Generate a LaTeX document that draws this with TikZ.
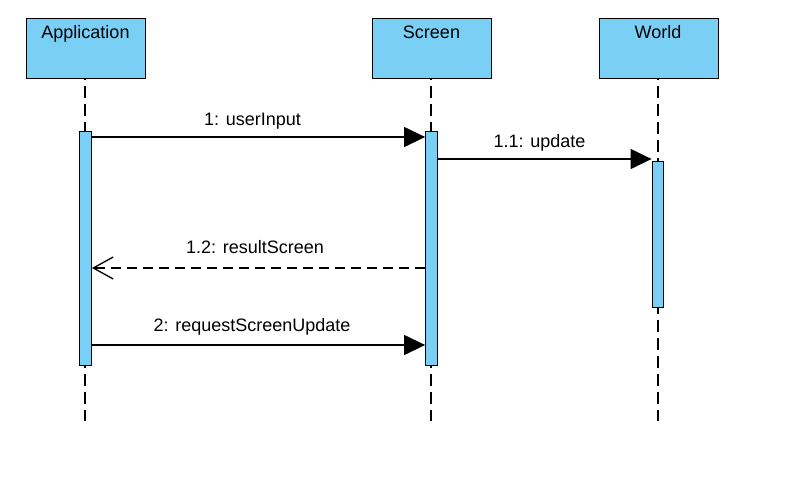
\documentclass[tikz,border=0pt]{standalone}
\usepackage{fontspec}
\setmainfont{Liberation Sans}
\usetikzlibrary{arrows.meta}
\definecolor{lifeblue}{HTML}{7ACFF5}
\tikzset{
  headbox/.style={draw=black, fill=lifeblue, line width=1.3pt, minimum width=119pt, minimum height=60pt, inner sep=0pt, anchor=north west},
  headtext/.style={font=\fontsize{18}{21}\selectfont, anchor=base},
  actbar/.style={draw=black, fill=lifeblue, line width=1.3pt, minimum width=11.5pt, inner sep=0pt, anchor=north},
  lifeline/.style={line width=1.5pt, dash pattern=on 12pt off 6pt, dash phase=11pt},
  msgline/.style={line width=1.3pt, -{Triangle[length=21pt,width=20pt]}},
  retline/.style={line width=1.3pt, dash pattern=on 10pt off 6pt, -{Straight Barb[length=20pt,width=22pt,line width=1.3pt]}},
  msglabel/.style={font=\fontsize{18}{21}\selectfont, anchor=base}
}
\begin{document}
\begin{tikzpicture}[x=1pt, y=-1pt]
\useasboundingbox (0,0) rectangle (797,487);
\fill[white] (0,0) rectangle (797,487);
% header boxes
\node[headbox] (app) at (26,18) {};
\node[headbox] (scr) at (372,18) {};
\node[headbox] (wld) at (599,18) {};
\node[headtext] at (85.5,39) {Application};
\node[headtext] at (431.5,39) {Screen};
\node[headtext] at (658,39) {World};
% lifeline ends
\coordinate (append) at (85,421);
\coordinate (scrend) at (431,421);
\coordinate (wldend) at (658,421);
\draw[lifeline] (app.south -| append) -- (append);
\draw[lifeline] (scr.south -| scrend) -- (scrend);
\draw[lifeline] (wld.south -| wldend) -- (wldend);
% activation bars
\node[actbar, minimum height=234pt] (appbar) at (85.5,131) {};
\node[actbar, minimum height=234pt] (scrbar) at (431.5,131) {};
\node[actbar, minimum height=146pt] (wldbar) at (658,161) {};
% message rows
\coordinate (m1) at (0,137);
\coordinate (m2) at (0,159);
\coordinate (m3) at (0,268);
\coordinate (m4) at (0,345);
\draw[msgline] (appbar.east |- m1) -- (scrbar.west |- m1);
\node[msglabel] at (252.5,125) {1: userInput};
\draw[msgline] (scrbar.east |- m2) -- (wldbar.west |- m2);
\node[msglabel] at (539.5,147) {1.1: update};
\draw[retline] (scrbar.west |- m3) -- (appbar.east |- m3);
\node[msglabel] at (255,253) {1.2: resultScreen};
\draw[msgline] (appbar.east |- m4) -- (scrbar.west |- m4);
\node[msglabel] at (252,331) {2: requestScreenUpdate};
\end{tikzpicture}
\end{document}
